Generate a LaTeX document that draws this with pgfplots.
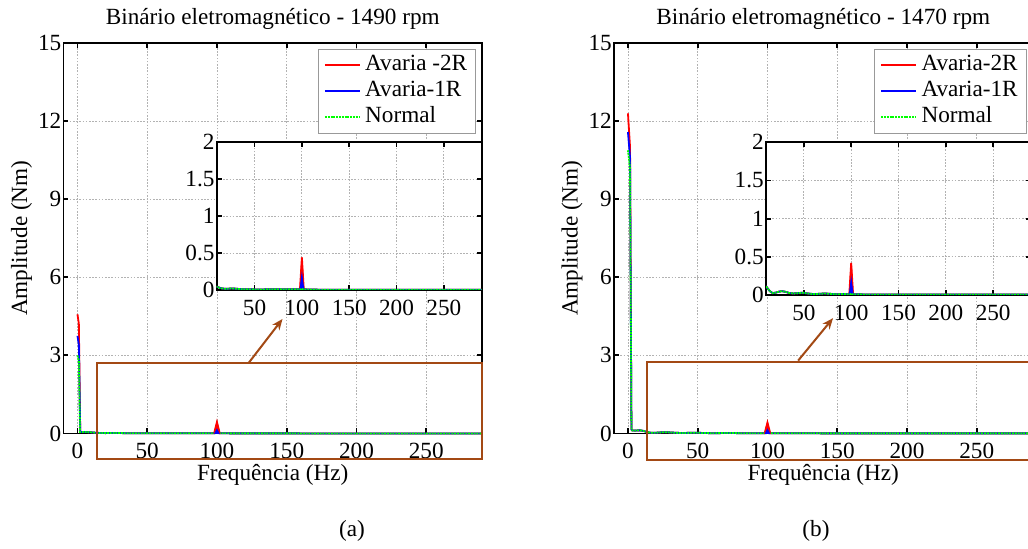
\documentclass[border=0pt]{standalone}
\usepackage{pgfplots}
\pgfplotsset{compat=1.18}
\usepackage{pgfplotstable}
\usepackage{fontspec}
\setmainfont{Liberation Serif}
\usetikzlibrary{arrows.meta}
\definecolor{brownc}{RGB}{163,73,20}
\newcommand\fsz{\fontsize{11.6}{13}\selectfont}

% ---------- left panel (1490 rpm) ----------
\pgfplotstableread{
x y
0 4.58
1 4.22
2 0.06
4 0.06
7 0.055
10 0.045
13 0.03
16 0.02
20 0.015
25 0.02
30 0.018
35 0.012
40 0.01
50 0.008
60 0.008
70 0.01
80 0.008
90 0.01
98 0.01
100 0.44
102 0.01
110 0.005
130 0.004
150 0.004
200 0.003
250 0.003
290 0.003
}\Lred
\pgfplotstableread{
x y
0 3.75
1 3.42
2 0.06
4 0.06
7 0.055
10 0.045
13 0.03
16 0.02
20 0.015
25 0.02
30 0.018
35 0.012
40 0.01
50 0.008
60 0.008
70 0.01
80 0.008
90 0.01
98.5 0.01
100 0.16
101.5 0.01
110 0.005
130 0.004
150 0.004
200 0.003
250 0.003
290 0.003
}\Lblue
\pgfplotstableread{
x y
0 3.0
1 2.8
1.9 0.06
4 0.06
7 0.055
10 0.045
13 0.03
16 0.02
20 0.015
25 0.022
30 0.018
35 0.012
40 0.01
50 0.008
60 0.008
70 0.01
80 0.008
90 0.01
99 0.01
100 0.02
101 0.01
110 0.005
130 0.004
150 0.004
200 0.003
250 0.003
290 0.003
}\Lgreen
% ---------- right panel (1470 rpm) ----------
\pgfplotstableread{
x y
0 12.3
1.5 11.0
2.5 0.15
3 0.12
5 0.11
7 0.12
9 0.12
11 0.1
14 0.05
17 0.025
20 0.03
24 0.045
27 0.05
31 0.04
35 0.025
39 0.02
44 0.025
49 0.03
54 0.02
60 0.012
66 0.015
72 0.02
78 0.015
85 0.01
92 0.012
98 0.01
100 0.42
102 0.01
110 0.008
130 0.006
160 0.005
200 0.005
250 0.005
290 0.005
}\Rred
\pgfplotstableread{
x y
0 11.58
1.5 10.6
2.5 0.15
3 0.12
5 0.11
7 0.12
9 0.12
11 0.1
14 0.05
17 0.025
20 0.03
24 0.045
27 0.05
31 0.04
35 0.025
39 0.02
44 0.025
49 0.03
54 0.02
60 0.012
66 0.015
72 0.02
78 0.015
85 0.01
92 0.012
98.5 0.01
100 0.16
101.5 0.01
110 0.008
130 0.006
160 0.005
200 0.005
250 0.005
290 0.005
}\Rblue
\pgfplotstableread{
x y
0 10.88
1.5 10.2
2.5 0.15
3 0.12
5 0.11
7 0.12
9 0.12
11 0.1
14 0.05
17 0.025
20 0.03
24 0.045
27 0.05
31 0.04
35 0.025
39 0.02
44 0.025
49 0.03
54 0.02
60 0.012
66 0.015
72 0.02
78 0.015
85 0.01
92 0.012
99 0.01
100 0.02
101 0.01
110 0.008
130 0.006
160 0.005
200 0.005
250 0.005
290 0.005
}\Rgreen

\tikzset{
  ln/.style={line width=0.9pt},
  gln/.style={line width=0.9pt, green, dash pattern=on 1pt off 0.4pt},
}
\pgfplotsset{
  legend image code/.code={\draw[#1] (0pt,0pt) -- (17.5pt,0pt);},
  every axis title shift=0pt,
}
\pgfplotsset{
  base/.style={
    scale only axis,
    axis line style={line width=0.9pt},
    tick style={black, line width=0.9pt},
    tick align=inside,
    major tick length=2.5pt,
    grid=major,
    major grid style={gray!60, line width=0.4pt, dash pattern=on 0.8pt off 0.8pt},
    ticklabel style={font=\fsz},
    /pgf/number format/assume math mode=true,
    /pgf/number format/fixed,
    scaled ticks=false,
    yticklabel style={xshift=2.4pt},
    xticklabel style={yshift=-1.3pt},
    axis background/.style={fill=white},
    label style={font=\fsz},
    title style={font=\fsz, at={(0.5,1)}, anchor=base, yshift=9pt},
  },
  mainax/.style={
    base, anchor=north west, width=209.25pt, height=195.25pt,
    xmin=-10, xmax=290, ymin=0, ymax=15,
    xtick={0,50,...,250}, ytick={0,3,...,15},
    xlabel={Frequência (Hz)}, ylabel={Amplitude (Nm)},
    xlabel style={at={(axis description cs:0.5,-0.1209)}, anchor=base},
    ylabel style={at={(axis description cs:-0.0872,0.5)}, anchor=base},
    clip=false,
    legend cell align=left,
    legend style={at={(1,1)}, anchor=north east, xshift=-3pt, yshift=-3pt,
      font=\fsz, draw=gray!80, inner xsep=3pt, inner ysep=1.5pt,
      /tikz/column sep=1pt,
      nodes={inner sep=1.2pt, text height=8pt, text depth=2.6pt}},
  },
  inax/.style={
    base, anchor=north west, width=132.5pt,
    xmin=10, xmax=290, ymin=0, ymax=2,
    xtick={50,100,...,250}, ytick={0,0.5,...,2},
  },
}

\begin{document}
\begin{tikzpicture}
% ===== left main =====
\begin{axis}[mainax, at={(31.75pt,-21.5pt)}, title={Binário eletromagnético - 1490 rpm}]
\addplot[ln, red, mark=none] table[x=x,y=y] {\Lred};
\addlegendentry{Avaria -2R}
\addplot[ln, blue, mark=none] table[x=x,y=y] {\Lblue};
\addlegendentry{Avaria-1R}
\addplot[gln, mark=none] table[x=x,y=y] {\Lgreen};
\addlegendentry{Normal}
\addplot[red, fill=red, draw=red, line width=0.5pt, forget plot] coordinates {(98,0) (100,0.44) (102,0)} \closedcycle;
\addplot[blue, fill=blue, draw=blue, line width=0.5pt, forget plot] coordinates {(98.5,0) (100,0.16) (101.5,0)} \closedcycle;
\draw[brownc, line width=1pt] (axis cs:14,-0.98) rectangle (axis cs:290,2.71);
\draw[brownc, line width=1pt, -{Stealth[length=5.5pt, width=4.5pt]}] (axis cs:123,2.73) -- (axis cs:147,4.4);
\end{axis}
% ===== left inset =====
\begin{axis}[inax, at={(108.35pt,-71.15pt)}, height=73.85pt]
\addplot[ln, red, mark=none] table[x=x,y=y] {\Lred};
\addplot[red, fill=red, draw=red, line width=0.5pt] coordinates {(98,0) (100,0.44) (102,0)} \closedcycle;
\addplot[ln, blue, mark=none] table[x=x,y=y] {\Lblue};
\addplot[blue, fill=blue, draw=blue, line width=0.5pt] coordinates {(98.5,0) (100,0.16) (101.5,0)} \closedcycle;
\addplot[gln, mark=none] table[x=x,y=y] {\Lgreen};
\end{axis}
% ===== right main =====
\begin{axis}[mainax, at={(307pt,-21.5pt)}, title={Binário eletromagnético - 1470 rpm}]
\addplot[ln, red, mark=none] table[x=x,y=y] {\Rred};
\addlegendentry{Avaria-2R}
\addplot[ln, blue, mark=none] table[x=x,y=y] {\Rblue};
\addlegendentry{Avaria-1R}
\addplot[gln, mark=none] table[x=x,y=y] {\Rgreen};
\addlegendentry{Normal}
\addplot[red, fill=red, draw=red, line width=0.5pt, forget plot] coordinates {(98,0) (100,0.42) (102,0)} \closedcycle;
\addplot[blue, fill=blue, draw=blue, line width=0.5pt, forget plot] coordinates {(98.5,0) (100,0.16) (101.5,0)} \closedcycle;
\draw[brownc, line width=1pt] (axis cs:14,-1.0) rectangle (axis cs:300,2.74);
\draw[brownc, line width=1pt, -{Stealth[length=5.5pt, width=4.5pt]}] (axis cs:122,2.8) -- (axis cs:147,4.43);
\end{axis}
% ===== right inset =====
\begin{axis}[inax, at={(383pt,-71.15pt)}, height=76.35pt]
\addplot[ln, red, mark=none] table[x=x,y=y] {\Rred};
\addplot[red, fill=red, draw=red, line width=0.5pt] coordinates {(98,0) (100,0.42) (102,0)} \closedcycle;
\addplot[ln, blue, mark=none] table[x=x,y=y] {\Rblue};
\addplot[blue, fill=blue, draw=blue, line width=0.5pt] coordinates {(98.5,0) (100,0.16) (101.5,0)} \closedcycle;
\addplot[gln, mark=none] table[x=x,y=y] {\Rgreen};
\end{axis}
% captions
\node[anchor=base, font=\fsz] at (176pt,-268.5pt) {(a)};
\node[anchor=base, font=\fsz] at (408pt,-268.5pt) {(b)};
\pgfresetboundingbox
\path[use as bounding box] (0pt,0pt) rectangle (514pt,-274.5pt);
\end{tikzpicture}
\end{document}
